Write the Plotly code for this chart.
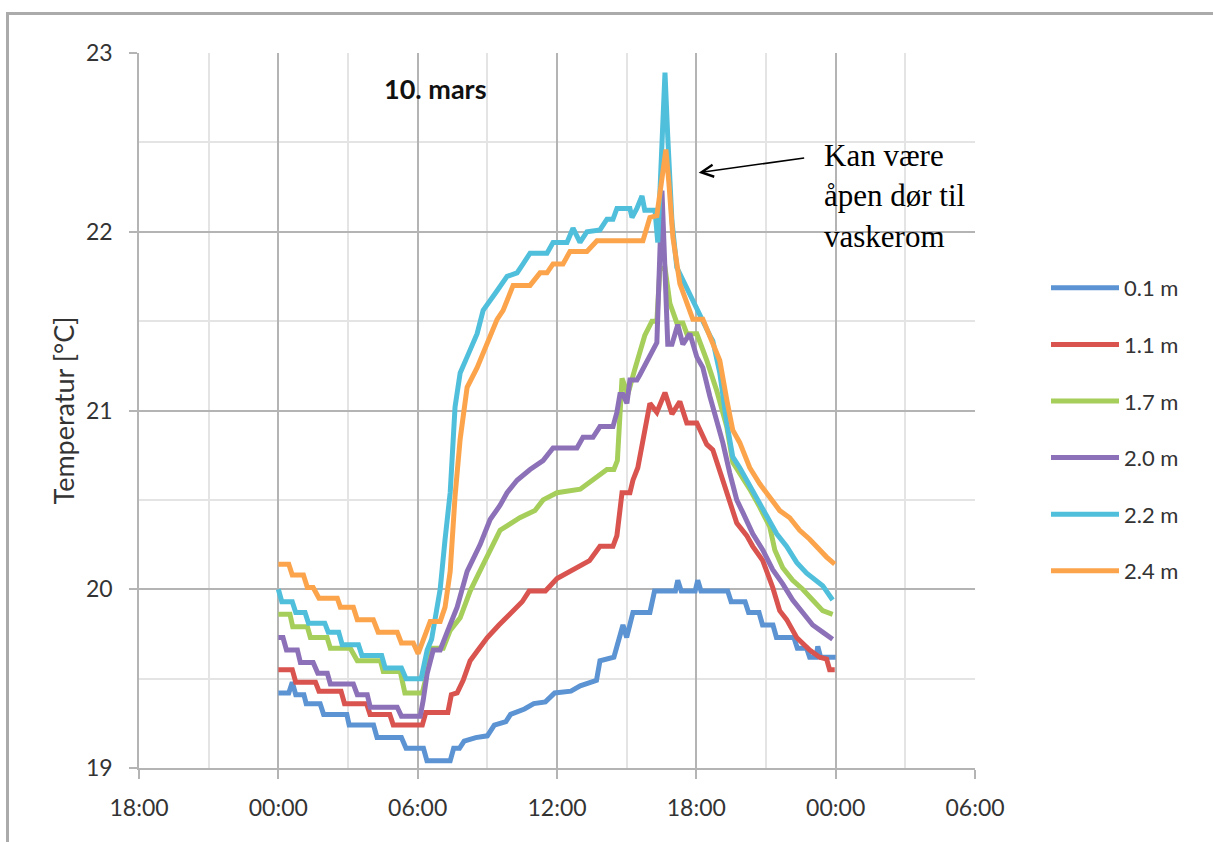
import plotly.graph_objects as go
import pandas as pd

# ---- data (hours after 00:00 on 10 March, temperature in °C) ----
series_names = ["0.1 m", "1.1 m", "1.7 m", "2.0 m", "2.2 m", "2.4 m"]
series_colors = ["#5B93D3", "#D9534F", "#A6CE5B", "#8D71B8", "#4FBFDB", "#FCA44C"]

t_01 = [0, 0.45, 0.6, 0.75, 1.1, 1.2, 1.8, 1.95, 2.95, 3.05, 4.1, 4.25, 5.3, 5.5, 6.25, 6.4, 7.4, 7.55, 7.8, 8.0,
        8.5, 9.0, 9.3, 9.8, 10.0, 10.6, 11.0, 11.5, 11.9, 12.6, 13.0, 13.7, 13.85, 14.3, 14.45, 14.84, 15.0, 15.27,
        16.0, 16.2, 17.1, 17.2, 17.35, 17.95, 18.06, 18.2, 19.35, 19.5, 20.1, 20.25, 20.7, 20.85, 21.3, 21.45,
        22.2, 22.35, 22.75, 22.88, 23.15, 23.23, 23.35, 24]
v_01 = [19.42, 19.42, 19.48, 19.41, 19.41, 19.36, 19.36, 19.30, 19.30, 19.24, 19.24, 19.17, 19.17, 19.11, 19.11,
        19.04, 19.04, 19.11, 19.11, 19.15, 19.17, 19.18, 19.24, 19.26, 19.30, 19.33, 19.36, 19.37, 19.42, 19.43,
        19.46, 19.49, 19.60, 19.62, 19.62, 19.80, 19.73, 19.87, 19.87, 19.99, 19.99, 20.05, 19.99, 19.99, 20.05,
        19.99, 19.99, 19.93, 19.93, 19.87, 19.87, 19.80, 19.80, 19.73, 19.73, 19.67, 19.67, 19.62, 19.62, 19.68,
        19.62, 19.62]

t_11 = [0, 0.6, 0.75, 1.6, 1.75, 2.7, 2.85, 3.8, 3.95, 4.8, 4.95, 6.2, 6.35, 7.3, 7.45, 7.7, 7.96, 8.26, 8.6, 9.0,
        9.5, 10.0, 10.5, 10.8, 11.5, 12.0, 12.8, 13.4, 13.85, 14.41, 14.58, 14.8, 15.14, 15.27, 15.48, 15.7, 16.0,
        16.3, 16.65, 16.95, 17.29, 17.59, 18.02, 18.45, 18.71, 19.14, 19.44, 19.74, 20.17, 20.43, 20.86, 21.29,
        21.59, 21.89, 22.32, 22.58, 22.88, 23.31, 23.61, 23.74, 23.96]
v_11 = [19.55, 19.55, 19.48, 19.48, 19.43, 19.43, 19.36, 19.36, 19.30, 19.30, 19.24, 19.24, 19.31, 19.31, 19.41,
        19.42, 19.49, 19.60, 19.66, 19.73, 19.80, 19.87, 19.93, 19.99, 19.99, 20.06, 20.12, 20.16, 20.24, 20.24,
        20.30, 20.54, 20.54, 20.61, 20.68, 20.82, 21.04, 20.99, 21.10, 20.98, 21.05, 20.93, 20.93, 20.81, 20.78,
        20.61, 20.50, 20.37, 20.30, 20.24, 20.16, 20.01, 19.88, 19.83, 19.73, 19.70, 19.66, 19.62, 19.61, 19.55,
        19.55]

t_17 = [0, 0.5, 0.62, 1.25, 1.38, 2.1, 2.24, 3.1, 3.4, 4.4, 4.52, 5.25, 5.45, 6.2, 6.35, 6.54, 7.1, 7.4, 7.83,
        8.26, 8.6, 9.0, 9.55, 10.4, 11.05, 11.4, 12.0, 13.0, 13.6, 14.15, 14.45, 14.6, 14.8, 15.05, 15.35, 15.78,
        16.09, 16.3, 16.43, 16.65, 16.86, 17.16, 17.42, 17.59, 18.02, 18.15, 18.45, 18.88, 19.31, 19.57, 19.87,
        20.3, 20.73, 21.16, 21.38, 21.72, 22.15, 22.58, 23.01, 23.44, 23.87]
v_17 = [19.86, 19.86, 19.79, 19.79, 19.73, 19.73, 19.67, 19.67, 19.60, 19.60, 19.54, 19.54, 19.42, 19.42, 19.50,
        19.67, 19.67, 19.77, 19.84, 19.99, 20.08, 20.19, 20.33, 20.40, 20.44, 20.50, 20.54, 20.56, 20.62, 20.67,
        20.67, 20.72, 21.18, 21.09, 21.23, 21.42, 21.50, 21.50, 21.79, 21.80, 21.60, 21.49, 21.49, 21.43, 21.43,
        21.39, 21.28, 21.11, 20.91, 20.71, 20.65, 20.56, 20.46, 20.35, 20.22, 20.12, 20.05, 20.00, 19.94, 19.88,
        19.86]

t_20 = [0, 0.2, 0.35, 0.82, 0.95, 1.5, 1.7, 2.11, 2.24, 3.23, 3.4, 3.83, 3.96, 5.12, 5.3, 6.11, 6.24, 6.41, 6.67,
        6.97, 7.27, 7.7, 8.13, 8.69, 9.12, 9.55, 9.85, 10.28, 10.84, 11.4, 11.83, 12.86, 13.12, 13.55, 13.85,
        14.41, 14.58, 14.71, 14.84, 15.01, 15.14, 15.44, 15.57, 16.0, 16.3, 16.52, 16.77, 16.95, 17.2, 17.42,
        17.72, 18.02, 18.28, 18.58, 18.88, 19.14, 19.44, 19.74, 20.0, 20.43, 20.86, 21.29, 21.72, 22.15, 22.58,
        23.01, 23.44, 23.87]
v_20 = [19.73, 19.73, 19.66, 19.66, 19.59, 19.59, 19.53, 19.53, 19.47, 19.47, 19.41, 19.41, 19.34, 19.34, 19.29,
        19.29, 19.38, 19.53, 19.66, 19.66, 19.76, 19.90, 20.10, 20.25, 20.39, 20.47, 20.54, 20.61, 20.67, 20.72,
        20.79, 20.79, 20.85, 20.85, 20.91, 20.91, 20.99, 21.09, 21.09, 21.04, 21.17, 21.17, 21.20, 21.31, 21.38,
        22.23, 21.37, 21.37, 21.48, 21.37, 21.43, 21.30, 21.24, 21.08, 20.95, 20.82, 20.65, 20.50, 20.43, 20.31,
        20.22, 20.11, 20.03, 19.94, 19.87, 19.80, 19.76, 19.72]

t_22 = [0, 0.15, 0.6, 0.75, 1.15, 1.3, 2.0, 2.15, 2.6, 2.75, 3.45, 3.6, 4.45, 4.6, 5.3, 5.5, 6.15, 6.41, 6.6, 6.97,
        7.18, 7.4, 7.61, 7.83, 8.13, 8.56, 8.82, 9.12, 9.42, 9.85, 10.28, 10.54, 10.84, 11.57, 11.83, 12.43, 12.69,
        12.99, 13.29, 13.85, 14.15, 14.41, 14.58, 15.14, 15.23, 15.44, 15.66, 15.78, 16.22, 16.34, 16.56, 16.65,
        16.77, 16.95, 17.16, 17.42, 17.72, 18.02, 18.28, 18.58, 18.71, 19.01, 19.31, 19.57, 19.87, 20.17, 20.6,
        21.03, 21.46, 21.89, 22.32, 22.75, 23.18, 23.44, 23.87]
v_22 = [20.00, 19.93, 19.93, 19.87, 19.87, 19.81, 19.81, 19.76, 19.76, 19.69, 19.69, 19.63, 19.63, 19.56, 19.56,
        19.50, 19.50, 19.66, 19.72, 20.00, 20.28, 20.54, 21.02, 21.21, 21.30, 21.43, 21.56, 21.62, 21.67, 21.75,
        21.77, 21.82, 21.88, 21.88, 21.94, 21.94, 22.02, 21.94, 22.00, 22.01, 22.07, 22.07, 22.13, 22.13, 22.08,
        22.13, 22.20, 22.12, 22.12, 21.94, 22.62, 22.89, 22.53, 22.06, 21.80, 21.73, 21.64, 21.57, 21.50, 21.42,
        21.39, 21.21, 20.93, 20.74, 20.68, 20.61, 20.50, 20.40, 20.31, 20.24, 20.15, 20.09, 20.05, 20.02, 19.94]

t_24 = [0, 0.45, 0.6, 1.08, 1.25, 1.5, 1.75, 2.54, 2.67, 3.23, 3.4, 4.09, 4.3, 5.12, 5.3, 5.81, 6.02, 6.24, 6.54,
        6.97, 7.18, 7.4, 7.61, 7.83, 8.13, 8.56, 8.99, 9.42, 9.68, 10.11, 10.84, 11.27, 11.57, 11.83, 12.26, 12.56,
        13.29, 13.72, 15.7, 16.0, 16.3, 16.52, 16.69, 16.82, 16.99, 17.29, 17.59, 17.85, 18.28, 18.71, 19.01,
        19.31, 19.57, 19.87, 20.3, 20.73, 21.16, 21.59, 22.02, 22.45, 22.88, 23.31, 23.61, 23.96]
v_24 = [20.14, 20.14, 20.08, 20.08, 20.01, 20.01, 19.95, 19.95, 19.90, 19.90, 19.83, 19.83, 19.76, 19.76, 19.70,
        19.70, 19.64, 19.72, 19.82, 19.82, 19.90, 20.10, 20.52, 20.84, 21.13, 21.24, 21.38, 21.51, 21.56, 21.70,
        21.70, 21.77, 21.77, 21.82, 21.82, 21.89, 21.89, 21.95, 21.95, 22.08, 22.09, 22.31, 22.46, 22.27, 21.97,
        21.71, 21.60, 21.51, 21.51, 21.38, 21.28, 21.06, 20.89, 20.82, 20.68, 20.59, 20.52, 20.44, 20.40, 20.33,
        20.28, 20.22, 20.18, 20.14]

all_t = [t_01, t_11, t_17, t_20, t_22, t_24]
all_v = [v_01, v_11, v_17, v_20, v_22, v_24]

x_ticks_hours = [-6, 0, 6, 12, 18, 24, 30]
y_range = [19, 23]
day0 = pd.Timestamp("2014-03-10 00:00")

title_text = "10. mars"
note_text = "Kan være<br>åpen dør til<br>vaskerom"
y_title = "Temperatur [°C]"

# ---- figure ----
FONT = "Lato, 'Open Sans', sans-serif"
fig = go.Figure()
for name, color, tt, vv in zip(series_names, series_colors, all_t, all_v):
    xs = [day0 + pd.Timedelta(hours=h) for h in tt]
    fig.add_trace(go.Scatter(
        x=xs, y=vv, mode="lines", name=name, legendgroup=name,
        line=dict(color=color, width=5),
    ))

x_start = day0 + pd.Timedelta(hours=x_ticks_hours[0])
x_end = day0 + pd.Timedelta(hours=x_ticks_hours[-1])
major_grid = "#B4B4B4"
minor_grid = "#E4E4E4"

fig.update_layout(
    width=1213, height=842,
    margin=dict(l=139, r=238, t=53, b=74),
    paper_bgcolor="white", plot_bgcolor="white",
    font=dict(family=FONT, size=23, color="#333333"),
    showlegend=True,
    legend=dict(
        x=(1046 - 139) / 836, xanchor="left",
        y=(768 - 429.5) / 715, yanchor="middle",
        traceorder="grouped", tracegroupgap=25,
        font=dict(family=FONT, size=22, color="#333333"),
        itemwidth=68, bgcolor="rgba(0,0,0,0)",
    ),
    xaxis=dict(
        type="date", range=[x_start, x_end],
        tick0=x_start, dtick=6 * 3600 * 1000, tickformat="%H:%M",
        showgrid=True, gridcolor=major_grid, gridwidth=1.5,
        showline=True, linecolor=major_grid, linewidth=1.5,
        ticks="outside", ticklen=9, tickcolor=major_grid, tickwidth=1.5,
        ticklabelstandoff=10,
        minor=dict(dtick=3 * 3600 * 1000, showgrid=True, gridcolor=minor_grid, gridwidth=1.5, ticks=""),
        zeroline=False,
    ),
    yaxis=dict(
        range=y_range, dtick=1,
        showgrid=True, gridcolor=major_grid, gridwidth=1.5,
        showline=True, linecolor=major_grid, linewidth=1.5,
        ticks="outside", ticklen=8, tickcolor=major_grid, tickwidth=1.5,
        ticklabelstandoff=12,
        minor=dict(dtick=0.5, showgrid=True, gridcolor=minor_grid, gridwidth=1.5, ticks=""),
        zeroline=False,
        title=dict(text=y_title, font=dict(family=FONT, size=27, color="#333333"), standoff=4),
    ),
)

# outer chart border (top and left edges visible in the reference)
fig.add_shape(type="rect", xref="paper", yref="paper",
              x0=(7.5 - 139) / 836, x1=(1230 - 139) / 836,
              y0=(768 - 860) / 715, y1=(768 - 13.5) / 715,
              line=dict(color="#ABABAB", width=3), fillcolor="rgba(0,0,0,0)", layer="below")

fig.add_annotation(text="<b>" + title_text + "</b>", xref="paper", yref="paper",
                   x=(435 - 139) / 836, y=(768 - 88) / 715, xanchor="center", yanchor="middle",
                   showarrow=False,
                   font=dict(family=FONT, size=27, color="#111111"))

fig.add_annotation(text=note_text, xref="paper", yref="paper",
                   x=(822 - 139) / 836, y=(768 - 136) / 715, xanchor="left", yanchor="top",
                   align="left", showarrow=False,
                   font=dict(family="Liberation Serif, Times New Roman, serif", size=31, color="#000000"))

# arrow pointing at the peak
fig.add_annotation(text="", x=day0 + pd.Timedelta(hours=18.1), y=22.33,
                   ax=107, ay=-15, axref="pixel", ayref="pixel",
                   showarrow=True, arrowhead=5, arrowsize=1.6, arrowwidth=1.5,
                   arrowcolor="#000000", standoff=0)

fig.write_html("out.html")
